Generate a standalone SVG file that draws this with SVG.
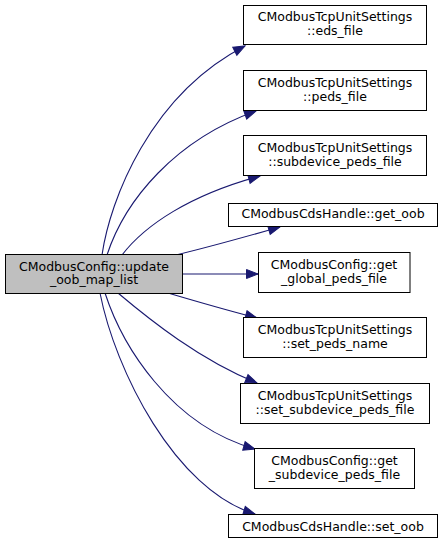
<svg xmlns="http://www.w3.org/2000/svg" width="445" height="547" viewBox="0 0 445 547">
<style>
.n rect{fill:#ffffff;stroke:#000000;stroke-width:1}
.n.m rect{fill:#bfbfbf}
.n text{font-family:"DejaVu Sans",sans-serif;font-size:12.5px;text-anchor:middle;fill:#000000}
.e path{fill:none;stroke:#191970;stroke-width:1.1;marker-end:url(#ah)}
</style>
<defs>
<marker id="ah" markerUnits="userSpaceOnUse" markerWidth="16" markerHeight="14" refX="12" refY="5" orient="auto" overflow="visible">
<path d="M0.5,0.5 L12,5 L0.5,9.5 z" fill="#191970" stroke="#191970" stroke-width="1"/>
</marker>
</defs>
<rect width="445" height="547" fill="#ffffff"/>
<g class="e" id="edges">
<path d="M102,255 C110,200 150,95 245,46"/>
<path d="M107,255 C125,200 175,140 256,111"/>
<path d="M122,255 C145,225 190,195 260,176"/>
<path d="M176,255 C205,248 245,237 280,227"/>
<path d="M182,274 L258,274"/>
<path d="M168,293 C195,301 230,311 257,318"/>
<path d="M118,293 C150,320 200,360 257,383"/>
<path d="M105,293 C122,345 170,425 255,449"/>
<path d="M100,293 C115,370 175,490 255,514"/>
</g>
<g class="n m" id="node_main">
<rect x="5.5" y="254.5" width="177" height="39"/>
<text x="94" y="270.5">CModbusConfig::update</text>
<text x="94" y="284">_oob_map_list</text>
</g>
<g class="n" id="node_eds_file">
<rect x="243.5" y="5.5" width="183" height="39"/>
<text x="335" y="21">CModbusTcpUnitSettings</text>
<text x="335" y="35">::eds_file</text>
</g>
<g class="n" id="node_peds_file">
<rect x="243.5" y="70.5" width="183" height="40"/>
<text x="335" y="86.5">CModbusTcpUnitSettings</text>
<text x="335" y="100.5">::peds_file</text>
</g>
<g class="n" id="node_subdevice_peds_file">
<rect x="243.5" y="135.5" width="183" height="40"/>
<text x="335" y="151.5">CModbusTcpUnitSettings</text>
<text x="335" y="165.5">::subdevice_peds_file</text>
</g>
<g class="n" id="node_get_oob">
<rect x="228.5" y="203.5" width="209" height="23"/>
<text x="333" y="217.5">CModbusCdsHandle::get_oob</text>
</g>
<g class="n" id="node_get_global_peds_file">
<rect x="258.5" y="252.5" width="151.5" height="40"/>
<text x="334" y="268.5">CModbusConfig::get</text>
<text x="334" y="282.5">_global_peds_file</text>
</g>
<g class="n" id="node_set_peds_name">
<rect x="243.5" y="317.5" width="183" height="40"/>
<text x="335" y="333.5">CModbusTcpUnitSettings</text>
<text x="335" y="347.5">::set_peds_name</text>
</g>
<g class="n" id="node_set_subdevice_peds_file">
<rect x="240.5" y="383.5" width="189" height="40"/>
<text x="335" y="399.5">CModbusTcpUnitSettings</text>
<text x="335" y="413.5">::set_subdevice_peds_file</text>
</g>
<g class="n" id="node_get_subdevice_peds_file">
<rect x="254.5" y="448.5" width="160" height="40"/>
<text x="334.5" y="464.5">CModbusConfig::get</text>
<text x="334.5" y="478.5">_subdevice_peds_file</text>
</g>
<g class="n" id="node_set_oob">
<rect x="228.5" y="514.5" width="209" height="23"/>
<text x="333" y="530.5">CModbusCdsHandle::set_oob</text>
</g>
</svg>
